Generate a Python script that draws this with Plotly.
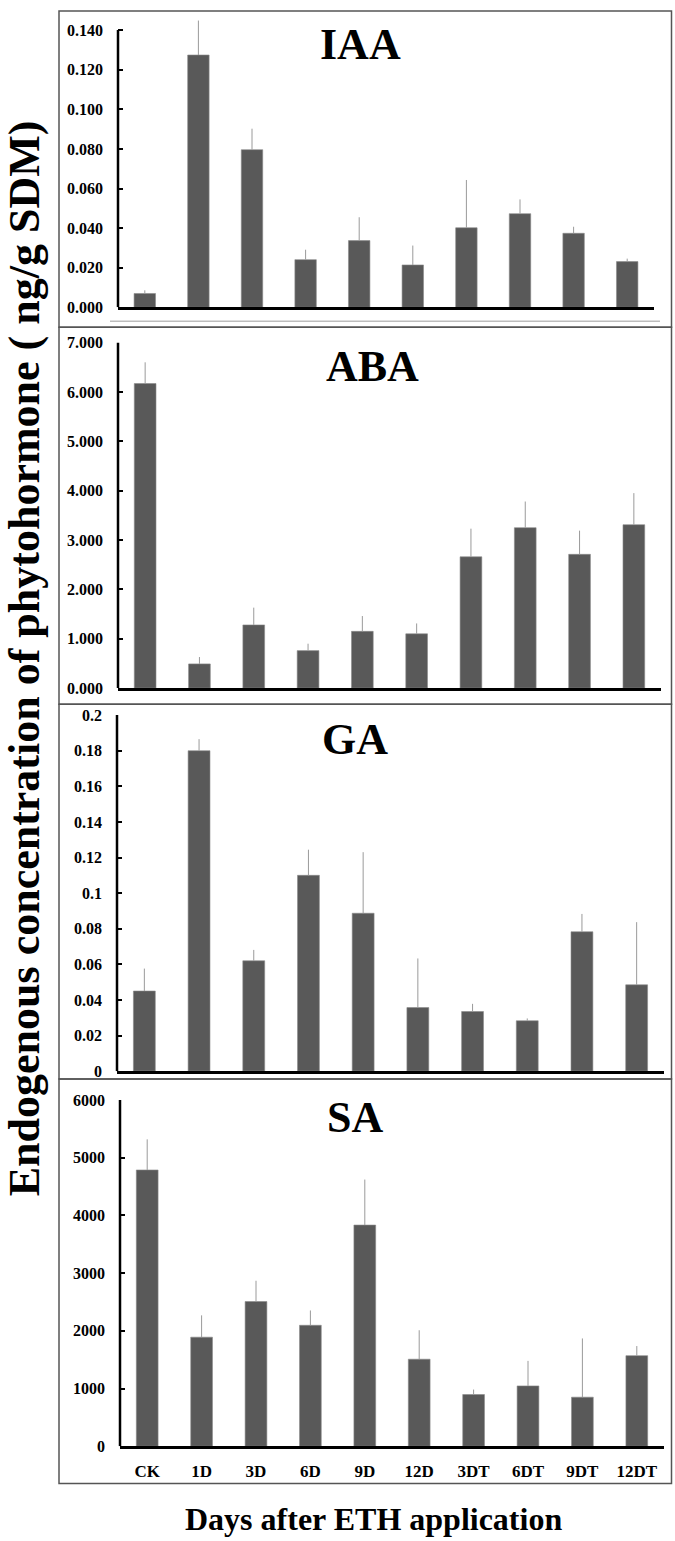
import plotly.graph_objects as go

W, H = 675, 1541

categories = ["CK", "1D", "3D", "6D", "9D", "12D", "3DT", "6DT", "9DT", "12DT"]

iaa_values = [0.0070, 0.1274, 0.0796, 0.0241, 0.0337, 0.0214, 0.0402, 0.0473, 0.0374, 0.0231]
iaa_err = [0.0016, 0.0174, 0.0106, 0.0050, 0.0118, 0.0098, 0.0241, 0.0072, 0.0033, 0.0015]

aba_values = [6.17, 0.49, 1.28, 0.76, 1.15, 1.10, 2.66, 3.25, 2.71, 3.31]
aba_err = [0.43, 0.14, 0.35, 0.14, 0.31, 0.21, 0.57, 0.53, 0.48, 0.64]

ga_values = [0.0450, 0.1800, 0.0620, 0.1100, 0.0887, 0.0357, 0.0335, 0.0283, 0.0783, 0.0485]
ga_err = [0.0126, 0.0065, 0.0061, 0.0144, 0.0343, 0.0276, 0.0043, 0.0013, 0.0100, 0.0352]

sa_values = [4789, 1891, 2509, 2097, 3834, 1509, 897, 1046, 851, 1571]
sa_err = [531, 378, 360, 257, 789, 502, 86, 434, 1018, 166]

iaa_ticks = [0.0, 0.02, 0.04, 0.06, 0.08, 0.10, 0.12, 0.14]
iaa_ticktext = ["0.000", "0.020", "0.040", "0.060", "0.080", "0.100", "0.120", "0.140"]
aba_ticks = [0, 1, 2, 3, 4, 5, 6, 7]
aba_ticktext = ["0.000", "1.000", "2.000", "3.000", "4.000", "5.000", "6.000", "7.000"]
ga_ticks = [0, 0.02, 0.04, 0.06, 0.08, 0.1, 0.12, 0.14, 0.16, 0.18, 0.2]
ga_ticktext = ["0", "0.02", "0.04", "0.06", "0.08", "0.1", "0.12", "0.14", "0.16", "0.18", "0.2"]
sa_ticks = [0, 1000, 2000, 3000, 4000, 5000, 6000]
sa_ticktext = ["0", "1000", "2000", "3000", "4000", "5000", "6000"]

panel_names = ["IAA", "ABA", "GA", "SA"]

FONT = "Liberation Serif, Times New Roman, serif"
BAR_COLOR = "#595959"


def px_x(p):
    return p / W


def px_y(p):
    return 1 - p / H


# top: value of top tick (axis line ends here); head: visible range above it
panels = [
    dict(name="IAA", vals=iaa_values, err=iaa_err, ticks=iaa_ticks, tt=iaa_ticktext, top=0.14, head=0.147,
         xd=(118, 654), y0px=302.7, ytoppx=22.3, ty=37, tx=360),
    dict(name="ABA", vals=aba_values, err=aba_err, ticks=aba_ticks, tt=aba_ticktext, top=7, head=7,
         xd=(118, 661), y0px=687.7, ytoppx=338.3, ty=362, tx=372),
    dict(name="GA", vals=ga_values, err=ga_err, ticks=ga_ticks, tt=ga_ticktext, top=0.2, head=0.2,
         xd=(117, 664), y0px=1075, ytoppx=715, ty=740, tx=355),
    dict(name="SA", vals=sa_values, err=sa_err, ticks=sa_ticks, tt=sa_ticktext, top=6000, head=6000,
         xd=(120, 664), y0px=1454.3, ytoppx=1104.3, ty=1122, tx=355),
]

fig = go.Figure()
layout = dict(
    width=W, height=H,
    margin=dict(l=0, r=0, t=0, b=0),
    paper_bgcolor="white", plot_bgcolor="white",
    showlegend=False,
    bargap=0.6,
    font=dict(family=FONT, color="black"),
)

annotations = []
shapes = []

for i, p in enumerate(panels):
    n = i + 1
    xa = "x" if n == 1 else f"x{n}"
    ya = "y" if n == 1 else f"y{n}"
    fig.add_trace(go.Bar(
        x=categories, y=p["vals"], xaxis=xa, yaxis=ya,
        marker=dict(color=BAR_COLOR, line=dict(color="#8a8a8a", width=0.6)),
        error_y=dict(type="data", symmetric=False, array=p["err"],
                     arrayminus=[0] * len(p["err"]), color="#9a9a9a",
                     thickness=1, width=0),
        cliponaxis=False,
    ))
    xkey = "xaxis" if n == 1 else f"xaxis{n}"
    ykey = "yaxis" if n == 1 else f"yaxis{n}"
    pxunit = (p["y0px"] - p["ytoppx"]) / p["top"]
    dom_top_px = p["y0px"] - pxunit * p["head"]
    layout[xkey] = dict(
        domain=[px_x(p["xd"][0]), px_x(p["xd"][1])],
        anchor=ya, showline=True, linecolor="black", linewidth=2.5,
        showgrid=False, zeroline=False, ticks="",
        showticklabels=(n == 4),
        tickfont=dict(family=FONT, size=17, weight="bold", color="black"),
        ticklabelstandoff=8,
        categoryorder="array", categoryarray=categories,
        fixedrange=True,
    )
    layout[ykey] = dict(
        domain=[px_y(p["y0px"]), px_y(dom_top_px)],
        anchor=xa, range=[0, p["head"]], showline=False,
        showgrid=False, zeroline=False,
        ticks="inside", ticklen=5, tickwidth=2, tickcolor="black",
        tickvals=p["ticks"], ticktext=p["tt"],
        tickfont=dict(family=FONT, size=16, weight="bold", color="black"),
        ticklabelstandoff=14,
        fixedrange=True,
    )
    shapes.append(dict(type="line", xref=f"{xa} domain", yref=ya,
                       x0=0, x1=0, y0=0, y1=p["top"],
                       line=dict(color="black", width=2.5), layer="above"))
    annotations.append(dict(
        text=p["name"], xref="paper", yref="paper",
        x=px_x(p["tx"]), y=px_y(p["ty"]), xanchor="center", yanchor="middle",
        showarrow=False, font=dict(family=FONT, size=44, weight="bold", color="black"),
    ))

frame_y = [3, 322.7, 704, 1083, 1492]
for i in range(4):
    shapes.append(dict(type="rect", xref="paper", yref="paper",
                       x0=px_x(59), x1=px_x(671.5), y0=px_y(frame_y[i + 1]), y1=px_y(frame_y[i]),
                       line=dict(color="#555555", width=1.5), fillcolor="rgba(0,0,0,0)"))
shapes.append(dict(type="line", xref="paper", yref="paper",
                   x0=px_x(110), x1=px_x(660), y0=px_y(316.7), y1=px_y(316.7),
                   line=dict(color="#bdbdbd", width=1.5)))

annotations.append(dict(
    text="Endogenous concentration of phytohormone ( ng/g SDM)",
    xref="paper", yref="paper", x=px_x(24), y=px_y(657.5),
    xanchor="center", yanchor="middle", textangle=-90, showarrow=False,
    font=dict(family=FONT, size=44, weight="bold", color="black"),
))
annotations.append(dict(
    text="Days after ETH application",
    xref="paper", yref="paper", x=px_x(373), y=px_y(1528),
    xanchor="center", yanchor="middle", showarrow=False,
    font=dict(family=FONT, size=32, weight="bold", color="black"),
))

layout["annotations"] = annotations
layout["shapes"] = shapes
fig.update_layout(**layout)
fig.write_html(
    "out.html",
    config={"displayModeBar": False},
    post_script="document.body.style.margin='0';document.body.style.overflow='hidden';",
)
